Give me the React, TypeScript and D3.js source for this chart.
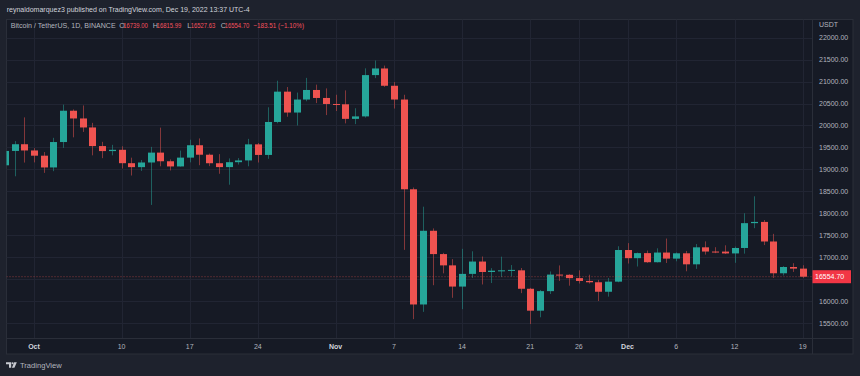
import React from "react";
import * as d3 from "d3";

const dates = [
  "2022-09-28","2022-09-29","2022-09-30","2022-10-01","2022-10-02","2022-10-03","2022-10-04","2022-10-05","2022-10-06","2022-10-07",
  "2022-10-08","2022-10-09","2022-10-10","2022-10-11","2022-10-12","2022-10-13","2022-10-14","2022-10-15","2022-10-16","2022-10-17",
  "2022-10-18","2022-10-19","2022-10-20","2022-10-21","2022-10-22","2022-10-23","2022-10-24","2022-10-25","2022-10-26","2022-10-27",
  "2022-10-28","2022-10-29","2022-10-30","2022-10-31","2022-11-01","2022-11-02","2022-11-03","2022-11-04","2022-11-05","2022-11-06",
  "2022-11-07","2022-11-08","2022-11-09","2022-11-10","2022-11-11","2022-11-12","2022-11-13","2022-11-14","2022-11-15","2022-11-16",
  "2022-11-17","2022-11-18","2022-11-19","2022-11-20","2022-11-21","2022-11-22","2022-11-23","2022-11-24","2022-11-25","2022-11-26",
  "2022-11-27","2022-11-28","2022-11-29","2022-11-30","2022-12-01","2022-12-02","2022-12-03","2022-12-04","2022-12-05","2022-12-06",
  "2022-12-07","2022-12-08","2022-12-09","2022-12-10","2022-12-11","2022-12-12","2022-12-13","2022-12-14","2022-12-15","2022-12-16",
  "2022-12-17","2022-12-18","2022-12-19"
];
const opens = [
  19093,19420,19573,19431,19312,19044,19623,20336,20160,19955,
  19531,19417,19446,19141,19051,19157,19382,19185,19067,19268,
  19550,19334,19140,19052,19164,19204,19570,19329,20080,20771,
  20295,20591,20809,20627,20490,20483,20151,20207,21148,21299,
  20905,20591,18547,15922,17601,17070,16813,16330,16619,16900,
  16662,16692,16700,16700,16280,15781,16226,16603,16598,16522,
  16458,16428,16212,16442,17163,16977,17092,16885,17105,16967,
  17088,16837,17224,17128,17127,17085,17209,17775,17803,17357,
  16633,16776,16739
];
const highs = [
  19790,19645,20185,19484,19395,19719,20475,20366,20456,20060,
  19628,19559,19526,19267,19214,19513,19951,19228,19428,19676,
  19705,19360,19347,19250,19257,19695,19601,20415,21020,20876,
  20750,21085,20931,20845,20700,20800,20393,21302,21480,21365,
  20990,20700,18587,18150,17655,17099,16955,17190,17134,17015,
  16750,17011,16820,16753,16300,16253,16675,16812,16611,16700,
  16600,16482,16526,17249,17320,17105,17150,17202,17424,17107,
  17142,17299,17360,17227,17270,17241,18000,18387,17847,17531,
  16796,16863,16815.99
];
const lows = [
  18471,18843,19155,19159,18920,18959,19490,19730,19853,19320,
  19255,19320,19020,18860,18965,18190,19070,18975,19063,19160,
  19095,19074,18900,18650,19110,19070,19157,19241,20050,20199,
  20000,20552,20510,20237,20330,20048,20031,20180,21079,20880,
  20386,17166,15588,15754,16361,16631,16074,15815,16527,16378,
  16410,16546,16560,16180,15476,15630,16160,16458,16350,16400,
  16400,16001,16100,16428,16855,16787,16870,16878,16867,16906,
  16678,16733,17058,17091,17071,16871,17080,17660,17275,16527,
  16583,16664,16527.63
];
const closes = [
  19420,19573,19431,19312,19044,19623,20336,20160,19955,19531,
  19417,19446,19141,19051,19157,19382,19185,19067,19268,19550,
  19334,19140,19052,19164,19204,19570,19329,20080,20771,20295,
  20591,20809,20627,20490,20483,20151,20207,21148,21299,20905,
  20591,18547,15922,17601,17070,16813,16330,16619,16900,16662,
  16692,16700,16710,16280,15781,16226,16603,16598,16522,16458,
  16428,16212,16442,17163,16977,17092,16885,17105,16967,17088,
  16837,17224,17128,17127,17085,17209,17775,17803,17357,16633,
  16776,16739,16554.70
];

const priceTicks = [15500,16000,16500,17000,17500,18000,18500,19000,19500,20000,20500,21000,21500,22000];
const priceLabels = ["15500.00","16000.00","17000.00","17500.00","18000.00","18500.00","19000.00","19500.00","20000.00","20500.00","21000.00","21500.00","22000.00"];
const timeTickDates = ["2022-10-01","2022-10-10","2022-10-17","2022-10-24","2022-11-01","2022-11-07","2022-11-14","2022-11-21","2022-11-26","2022-12-01","2022-12-06","2022-12-12","2022-12-19"];
const timeTickLabels = ["Oct","10","17","24","Nov","7","14","21","26","Dec","6","12","19"];
const lastPrice = 16554.70;
const lastPriceLabel = "16554.70";
const headerText = "reynaldomarquez3 published on TradingView.com, Dec 19, 2022 13:37 UTC-4";
const symbolText = "Bitcoin / TetherUS, 1D, BINANCE";
const ohlcKeys = ["O", "H", "L", "C"];
const ohlcValues = ["16739.00", "16815.99", "16527.63", "16554.70"];
const changeText = "−183.51 (−1.10%)";

const W = 860, H = 376;
const UP = "#26a69a", DOWN = "#ef5350";
const FONT = "'Liberation Sans', Arial, sans-serif";

export default function App() {
  const parse = (s: string) => new Date(s + "T00:00:00Z");
  const x = d3.scaleUtc()
    .domain([parse("2022-10-01"), parse("2022-12-19")])
    .range([34, 34 + 79 * 9.73]);
  const y = d3.scaleLinear().domain([15500, 22000]).range([323, 37.7]);

  const paneL = 6.5, paneR = 812.5, paneT = 19.5, paneB = 338.5;
  const bw = 7;

  const candles = dates.map((d, i) => ({
    x: x(parse(d)), o: opens[i], h: highs[i], l: lows[i], c: closes[i],
  }));

  const keyX = [119.3, 152.7, 187.3, 220.7];
  const valX = [123.3, 156.7, 190.7, 224.7];

  return (
    <svg width={W} height={H} style={{ position: "absolute", left: 0, top: 0, display: "block" }} fontFamily={FONT}>
      <defs>
        <clipPath id="pane">
          <rect x={paneL} y={paneT} width={paneR - paneL} height={paneB - paneT} />
        </clipPath>
      </defs>
      <rect x={0} y={0} width={W} height={H} fill="#1e222d" />
      <rect x={paneL} y={paneT} width={853 - paneL} height={354 - paneT} fill="#161a25" stroke="#2a2e39" strokeWidth={1} />
      {/* header */}
      <text x={6.7} y={12} fontSize={7.4} fill="#d1d4dc" textLength={243} lengthAdjust="spacingAndGlyphs">{headerText}</text>

      {/* grid */}
      <g clipPath="url(#pane)">
        {priceTicks.map((p) => (
          <line key={"h" + p} x1={paneL} x2={paneR} y1={Math.round(y(p)) + 0.5} y2={Math.round(y(p)) + 0.5} stroke="#212533" />
        ))}
        {timeTickDates.map((d) => (
          <line key={"v" + d} x1={Math.round(x(parse(d))) + 0.5} x2={Math.round(x(parse(d))) + 0.5} y1={paneT} y2={paneB} stroke="#212533" />
        ))}
      </g>

      {/* candles */}
      <g clipPath="url(#pane)">
        {candles.map((k, i) => {
          const up = k.c >= k.o;
          const col = up ? UP : DOWN;
          const top = y(Math.max(k.o, k.c));
          const bot = y(Math.min(k.o, k.c));
          const bh = Math.max(1, bot - top);
          const cx = Math.round(k.x);
          return (
            <g key={i}>
              <line x1={cx + 0.5} x2={cx + 0.5} y1={y(k.h)} y2={y(k.l)} stroke={col} strokeOpacity={0.5} strokeWidth={1} />
              <rect x={cx + 0.5 - bw / 2} y={top} width={bw} height={bh} fill={col} />
            </g>
          );
        })}
        <line x1={paneL} x2={paneR} y1={y(lastPrice)} y2={y(lastPrice)} stroke={DOWN} strokeOpacity={0.55} strokeDasharray="1,2" />
      </g>

      {/* legend */}
      <g fontSize={7.2}>
        <text x={10.7} y={28} fill="#b2b5be" textLength={105} lengthAdjust="spacingAndGlyphs">{symbolText}</text>
        {ohlcKeys.map((k, i) => (
          <g key={k}>
            <text x={keyX[i]} y={28} fill="#b2b5be">{k}</text>
            <text x={valX[i]} y={28} fill="#f7525f" textLength={24.5} lengthAdjust="spacingAndGlyphs">{ohlcValues[i]}</text>
          </g>
        ))}
        <text x={253.3} y={28} fill="#f7525f" textLength={50.7} lengthAdjust="spacingAndGlyphs">{changeText}</text>
      </g>

      {/* axis separators */}
      <line x1={paneR} x2={paneR} y1={paneT} y2={354} stroke="#2a2e39" />
      <line x1={paneL} x2={853} y1={paneB} y2={paneB} stroke="#2a2e39" />

      {/* price axis */}
      <text x={819} y={26.5} fontSize={7} fill="#b2b5be">USDT</text>
      {priceTicks.filter((p) => p !== 16500).map((p, i) => (
        <text key={"pl" + p} x={819} y={y(p) + 2.5} fontSize={7} fill="#b2b5be">{priceLabels[i]}</text>
      ))}
      <rect x={812.5} y={y(lastPrice) - 6.5} width={38.5} height={13} fill="#f23645" />
      <text x={815} y={y(lastPrice) + 2.5} fontSize={7} fill="#ffffff">{lastPriceLabel}</text>

      {/* time axis */}
      {timeTickDates.map((d, i) => {
        const major = isNaN(Number(timeTickLabels[i]));
        return (
          <text key={"tl" + d} x={x(parse(d))} y={349} fontSize={7} textAnchor="middle"
            fill={major ? "#d1d4dc" : "#b2b5be"} fontWeight={major ? "bold" : "normal"}>{timeTickLabels[i]}</text>
        );
      })}

      {/* logo */}
      <g fill="#c8cad1">
        <path d="M6,362.3 H11.2 V367.8 H9 V364.2 H6 Z" />
        <circle cx={12.6} cy={363.3} r={1.05} />
        <path d="M14.2,362.3 H16.8 L14.4,367.8 H11.9 Z" />
      </g>
      <text x={20} y={367.8} fontSize={7.4} fill="#b2b5be" textLength={41.7} lengthAdjust="spacingAndGlyphs">TradingView</text>
    </svg>
  );
}
